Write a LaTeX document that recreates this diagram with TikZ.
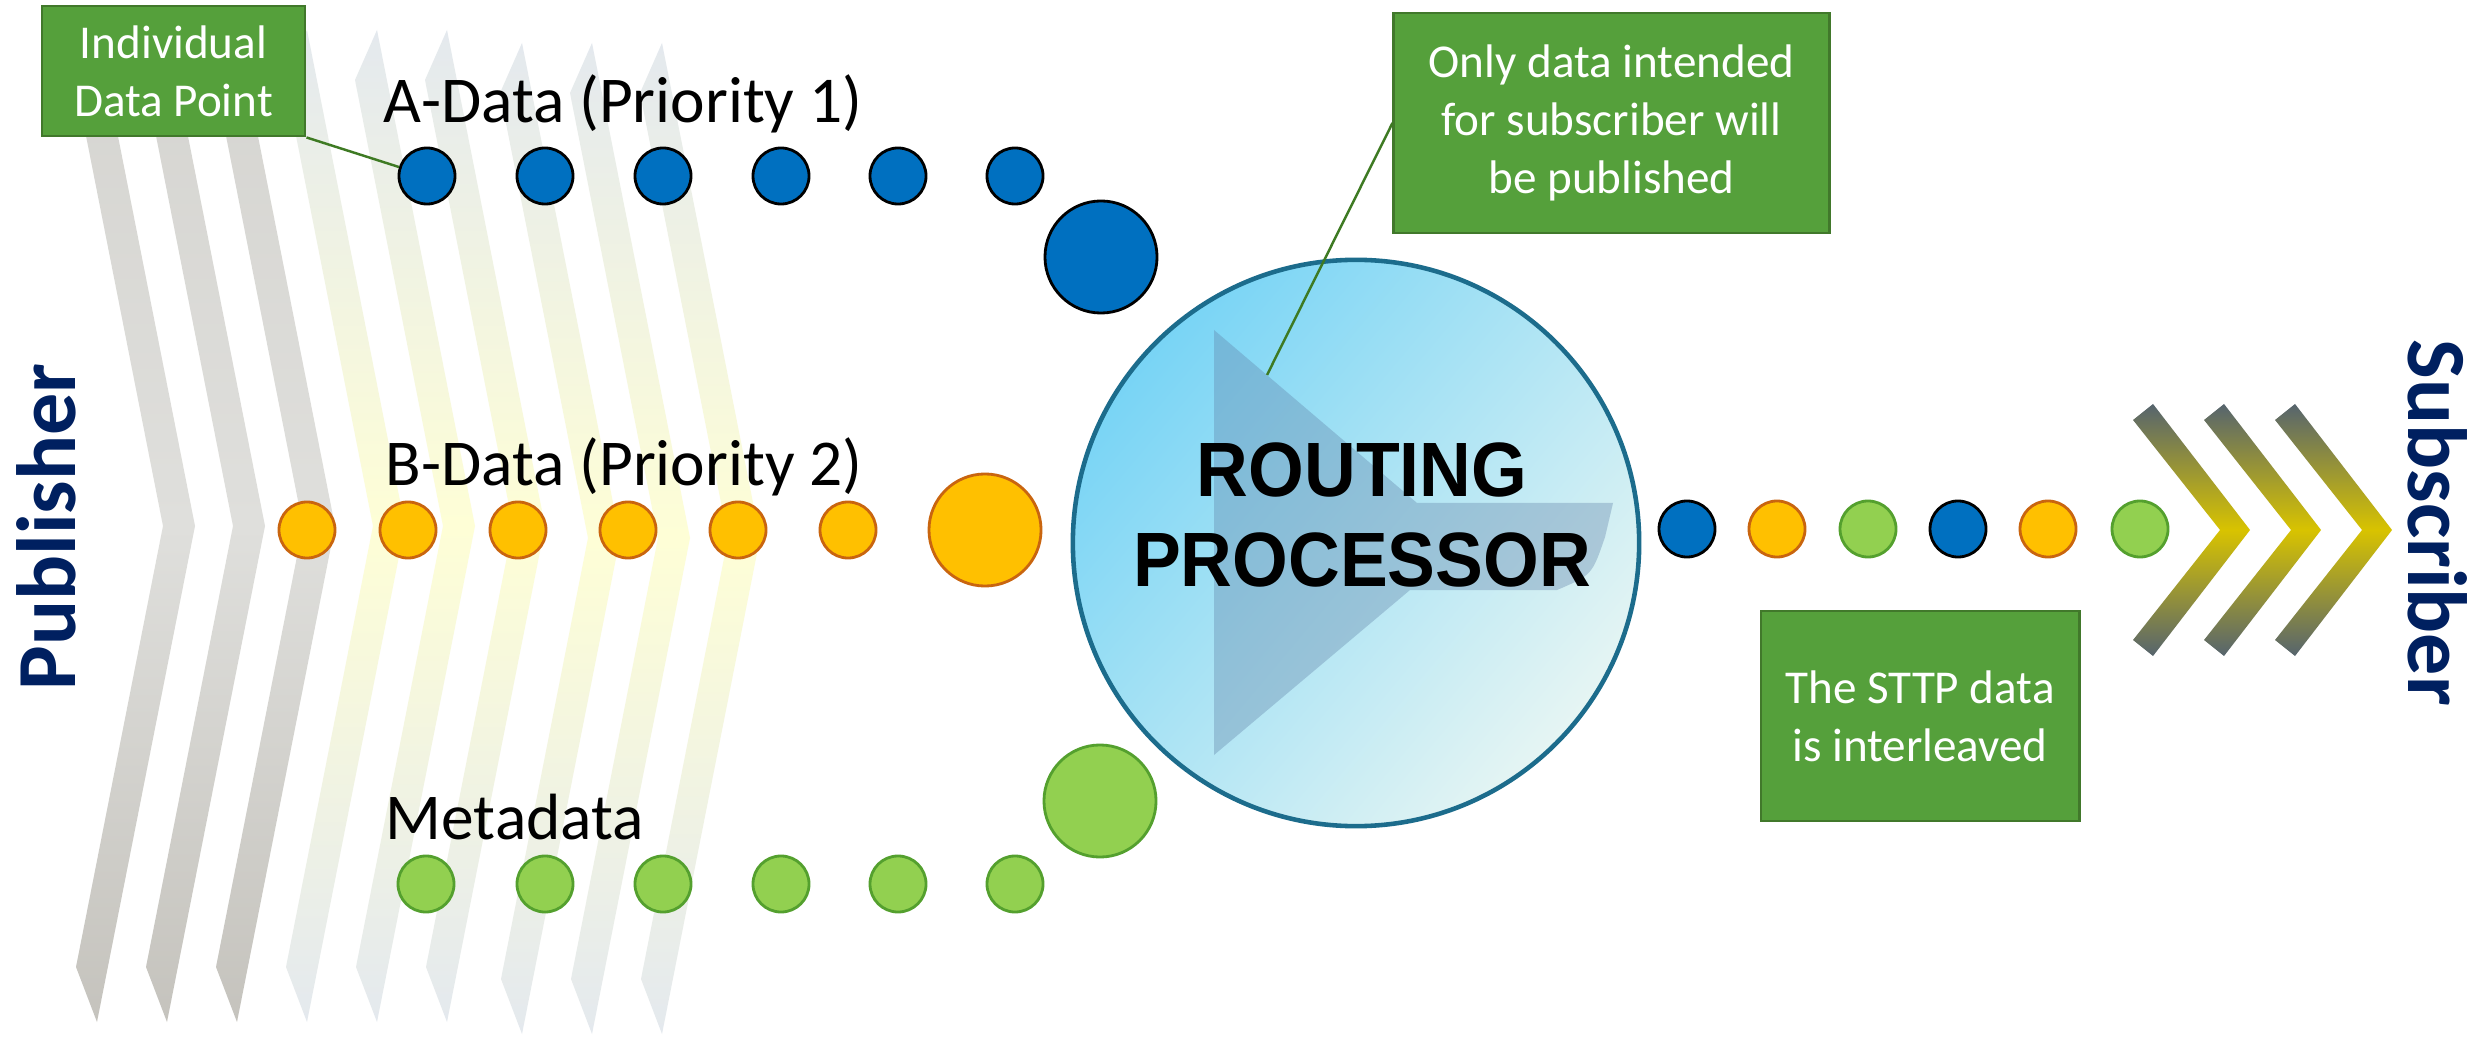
\documentclass[tikz,border=0pt]{standalone}
\usepackage{fontspec}
\setmainfont{Carlito}
\newfontfamily\procfont{Liberation Sans}[FakeStretch=0.93]

\definecolor{navy}{HTML}{002060}
\definecolor{boxgreen}{HTML}{55A03B}
\definecolor{boxedge}{HTML}{41782B}
\definecolor{leadgreen}{HTML}{3E7A23}
\definecolor{bluedot}{HTML}{0070C0}
\definecolor{orangedot}{HTML}{FFC000}
\definecolor{orangeline}{HTML}{C9650F}
\definecolor{greendot}{HTML}{92D050}
\definecolor{greenline}{HTML}{54A02E}
\definecolor{ringblue}{HTML}{1C6C8C}
\definecolor{ringtop}{HTML}{78D4F5}
\definecolor{ringbot}{HTML}{E6F5F3}
\definecolor{playblue}{HTML}{5E7FA6}
\definecolor{grayA}{HTML}{D5D4D0}
\definecolor{grayB}{HTML}{DFDFDC}
\definecolor{grayC}{HTML}{C5C3BD}
\definecolor{paleA}{HTML}{E4E9EE}
\definecolor{paleB}{HTML}{FEFED6}
\definecolor{slate}{HTML}{56646E}
\definecolor{gold}{HTML}{D8C300}

% left band: tip x, tip y, apex y, bottom y, shading
\newcommand{\lchev}[5]{\path[#5] (#1,#2) -- (#1+98,#3) -- (#1,#4) -- (#1-21,#4-55)
  -- (#1+66,#3) -- (#1-22,#2+50) -- cycle;}
% right chevron: outer apex x
\newcommand{\rchev}[1]{\path[top color=slate, bottom color=slate, middle color=gold]
  (#1-117,420) -- (#1-97,404) -- (#1,530) -- (#1-97,656) -- (#1-117,640) -- (#1-30,530) -- cycle;}

\begin{document}
\begin{tikzpicture}[x=0.01cm, y=-0.01cm,
    dot/.style={circle, minimum size=0.56cm, inner sep=0pt, line width=0.8pt},
    adot/.style={dot, fill=bluedot, draw=black},
    bdot/.style={dot, fill=orangedot, draw=orangeline},
    mdot/.style={dot, fill=greendot, draw=greenline},
    big/.style={minimum size=1.12cm},
    note/.style={draw=boxedge, fill=boxgreen, line width=0.8pt, text=white, align=center,
      inner sep=0pt, font=\fontsize{13.4}{16.4}\selectfont},
    lbl/.style={anchor=base west, inner sep=0pt, font=\fontsize{18.6}{22}\selectfont},
    side/.style={text=navy, font=\fontsize{23.9}{28}\selectfont\bfseries},
    proc/.style={circle, minimum size=5.66cm, draw=ringblue, line width=1.3pt,
      top color=ringtop, bottom color=ringbot, shading angle=50},
    lead/.style={draw=leadgreen, line width=0.7pt},
    gband/.style={top color=grayA, bottom color=grayC, middle color=grayB},
    yband/.style={top color=paleA, bottom color=paleA, middle color=paleB}]
    \useasboundingbox (0,0) rectangle (2486,1037);
    \fill[white] (0,0) rectangle (2486,1037);

    % publisher bands
    \lchev{97}{30}{526}{1022}{gband}
    \lchev{167}{30}{526}{1022}{gband}
    \lchev{237}{30}{526}{1022}{gband}
    \lchev{307}{30}{526}{1022}{yband}
    \lchev{377}{30}{526}{1022}{yband}
    \lchev{447}{30}{526}{1022}{yband}
    \lchev{522}{43}{538}{1034}{yband}
    \lchev{592}{43}{538}{1034}{yband}
    \lchev{662}{43}{538}{1034}{yband}

    \node[side, rotate=90] (pub) at (46,527) {Publisher};
    \node[side, rotate=-90] (sub) at (2438,523) {Subscriber};

    \node[lbl] (alab) at (383,123) {A-Data (Priority 1)};
    \node[lbl] (blab) at (385,486) {B-Data (Priority 2)};
    \node[lbl] (mlab) at (385,839) {Metadata};

    % A-data
    \node[adot] (a1) at (427,176) {};
    \node[adot] (a2) at (545,176) {};
    \node[adot] (a3) at (663,176) {};
    \node[adot] (a4) at (781,176) {};
    \node[adot] (a5) at (898,176) {};
    \node[adot] (a6) at (1015,176) {};
    \node[adot, big] (a7) at (1101,257) {};

    % B-data
    \node[bdot] (b1) at (307,530) {};
    \node[bdot] (b2) at (408,530) {};
    \node[bdot] (b3) at (518,530) {};
    \node[bdot] (b4) at (628,530) {};
    \node[bdot] (b5) at (738,530) {};
    \node[bdot] (b6) at (848,530) {};
    \node[bdot, big] (b7) at (985,530) {};

    % metadata
    \node[mdot] (m1) at (426,884) {};
    \node[mdot] (m2) at (545,884) {};
    \node[mdot] (m3) at (663,884) {};
    \node[mdot] (m4) at (781,884) {};
    \node[mdot] (m5) at (898,884) {};
    \node[mdot] (m6) at (1015,884) {};
    \node[mdot, big] (m7) at (1100,801) {};

    % routing processor
    \node[proc] (rp) at (1356,543) {};
    \fill[playblue, fill opacity=0.35] (1214,330) -- (1417,503) -- (1613,503) -- (1605,537)
      .. controls (1592,575) .. (1557,590) -- (1410,590) -- (1214,755) -- cycle;
    \node[align=center, font=\procfont\bfseries\fontsize{21.9}{25.5}\selectfont] (rptext)
      at (1362,515) {ROUTING\\PROCESSOR};

    % interleaved output
    \node[adot] (o1) at (1687,529) {};
    \node[bdot] (o2) at (1777,529) {};
    \node[mdot] (o3) at (1868,529) {};
    \node[adot] (o4) at (1958,529) {};
    \node[bdot] (o5) at (2048,529) {};
    \node[mdot] (o6) at (2140,529) {};

    \rchev{2250}
    \rchev{2321}
    \rchev{2392}

    \node[note, minimum width=2.63cm, minimum height=1.30cm] (idp) at (173.5,71)
      {Individual\\Data Point};
    \node[note, minimum width=4.35cm, minimum height=2.20cm] (only) at (1611.5,123)
      {Only data intended\\for subscriber will\\be published};
    \node[note, minimum width=3.18cm, minimum height=2.10cm] (sttp) at (1920,716)
      {The STTP data\\is interleaved};

    \coordinate (tip) at (1267,375);
    \path[lead] (idp.south east) edge (a1)
                (only.west) edge (tip);
\end{tikzpicture}
\end{document}
